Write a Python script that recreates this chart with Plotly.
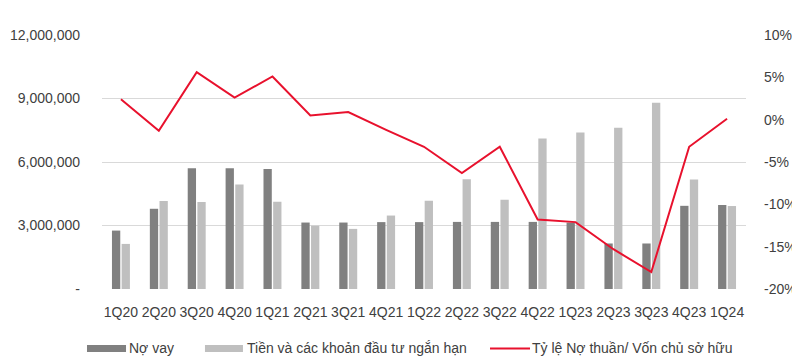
import plotly.graph_objects as go

categories = ["1Q20", "2Q20", "3Q20", "4Q20", "1Q21", "2Q21", "3Q21", "4Q21", "1Q22",
              "2Q22", "3Q22", "4Q22", "1Q23", "2Q23", "3Q23", "4Q23", "1Q24"]
no_vay = [2760000, 3790000, 5700000, 5700000, 5670000, 3140000, 3140000, 3160000, 3160000,
          3170000, 3170000, 3170000, 3140000, 2150000, 2150000, 3930000, 3970000]
tien_dau_tu = [2130000, 4160000, 4110000, 4940000, 4120000, 2990000, 2840000, 3470000, 4170000,
               5180000, 4220000, 7110000, 7390000, 7620000, 8800000, 5170000, 3920000]
ty_le = [2.4, -1.3, 5.6, 2.6, 5.1, 0.5, 0.9, -1.2, -3.2,
         -6.3, -3.2, -11.8, -12.1, -15.3, -18.0, -3.2, 0.1]

left_vals = [0, 3000000, 6000000, 9000000, 12000000]
left_text = ["-", "3,000,000", "6,000,000", "9,000,000", "12,000,000"]
right_vals = [-20, -15, -10, -5, 0, 5, 10]
right_text = ["-20%", "-15%", "-10%", "-5%", "0%", "5%", "10%"]

names = ["Nợ vay", "Tiền và các khoản đầu tư ngắn hạn", "Tỷ lệ Nợ thuần/ Vốn chủ sở hữu"]
colors = ["#808080", "#bfbfbf", "#e8112d"]

FONT = "Liberation Sans, Arial, sans-serif"
TXT = "#404040"

fig = go.Figure()
fig.add_trace(go.Bar(x=categories, y=no_vay, name=names[0], showlegend=False,
                     marker=dict(color=colors[0], line=dict(width=0))))
fig.add_trace(go.Bar(x=categories, y=tien_dau_tu, name=names[1], showlegend=False,
                     marker=dict(color=colors[1], line=dict(width=0))))
fig.add_trace(go.Scatter(x=categories, y=ty_le, name=names[2], showlegend=False,
                         mode="lines", line=dict(color=colors[2], width=2), yaxis="y2"))

# custom legend (wide swatches like the original)
ly = -0.234
shapes = [
    dict(type="rect", xref="paper", yref="paper", x0=-0.0233, x1=0.0373, y0=-0.248, y1=-0.2205,
         fillcolor=colors[0], line=dict(width=0)),
    dict(type="rect", xref="paper", yref="paper", x0=0.1599, x1=0.2189, y0=-0.248, y1=-0.2205,
         fillcolor=colors[1], line=dict(width=0)),
    dict(type="line", xref="paper", yref="paper", x0=0.6025, x1=0.6646, y0=ly, y1=ly,
         line=dict(color=colors[2], width=2)),
]
annotations = [
    dict(x=xx, y=ly, xref="paper", yref="paper", text=t, showarrow=False,
         xanchor="left", yanchor="middle", borderpad=0, font=dict(size=14, color=TXT))
    for xx, t in zip([0.040, 0.223, 0.666], names)
]

# page body has an 8px margin: size the figure so it fills the 800x360 window
fig.update_layout(
    width=792, height=352,
    margin=dict(l=94, r=54, t=27, b=71),
    plot_bgcolor="white", paper_bgcolor="white",
    font=dict(family=FONT, size=14, color=TXT),
    barmode="group", bargap=0.49, bargroupgap=0.14,
    xaxis=dict(showgrid=False, showline=False, ticks="", tickfont=dict(size=14),
               ticklabelstandoff=13, automargin=False),
    yaxis=dict(range=[0, 12000000], tickvals=left_vals, ticktext=left_text,
               showgrid=True, gridcolor="#d9d9d9", gridwidth=1, zeroline=False,
               ticklabelstandoff=21, tickfont=dict(size=14), automargin=False),
    yaxis2=dict(range=[-20, 10], tickvals=right_vals, ticktext=right_text,
                overlaying="y", side="right", showgrid=False, zeroline=False,
                ticklabelstandoff=17, tickfont=dict(size=14), automargin=False),
    shapes=shapes, annotations=annotations,
    showlegend=False,
)

fig.write_html("out.html")
